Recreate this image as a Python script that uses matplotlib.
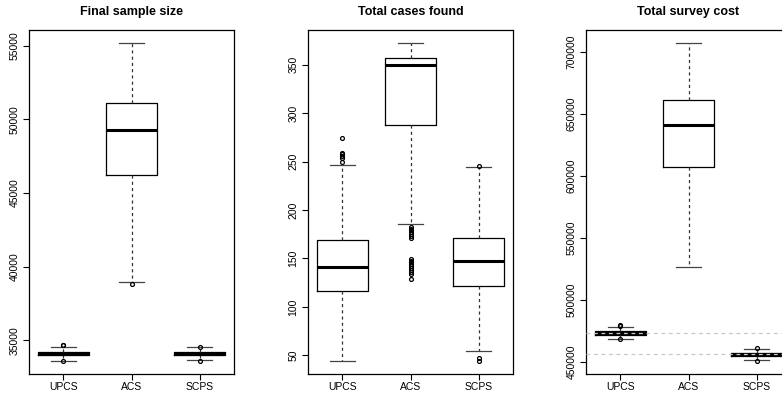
#!/usr/bin/env python3
"""
Boxplots of simulated survey outcomes (sample size, cases found, cost)
for the three designs, drawn in the style of base R boxplot().
"""
import numpy as np
import matplotlib

matplotlib.use("Agg")
import matplotlib.pyplot as plt  # noqa: E402

plt.rcParams["font.family"] = ["Liberation Sans", "DejaVu Sans"]

DESIGNS = ["UPCS", "ACS", "SCPS"]

# Final sample size
size_whislo = [33640, 39000, 33650]
size_q1 = [33990, 46200, 33990]
size_med = [34100, 49250, 34100]
size_q3 = [34230, 51100, 34230]
size_whishi = [34550, 55200, 34560]
size_fliers = [[34720, 34660, 33600], [38800], [34580, 33590]]

# Total cases found
cases_whislo = [44, 186, 55]
cases_q1 = [116, 288, 121.5]
cases_med = [141, 350, 147]
cases_q3 = [169, 356.5, 171]
cases_whishi = [246, 372.5, 244]
cases_fliers = [
    [249, 254, 256, 258, 259, 274],
    [182, 180, 179, 177, 175, 173, 171,
     149, 147, 146, 144, 142, 140, 138, 136, 134, 128.5],
    [245, 47, 44],
]

# Total survey cost
cost_whislo = [468300, 526000, 451400]
cost_q1 = [471600, 607000, 454600]
cost_med = [473100, 640600, 456000]
cost_q3 = [474600, 661500, 457200]
cost_whishi = [477700, 707300, 460500]
cost_fliers = [[478600, 479200, 468200], [], [461300, 450300]]
cost_refs = [473100, 456000]  # dashed reference lines

PANELS = [
    ("Final sample size", size_whislo, size_q1, size_med, size_q3,
     size_whishi, size_fliers, [35000, 40000, 45000, 50000, 55000]),
    ("Total cases found", cases_whislo, cases_q1, cases_med, cases_q3,
     cases_whishi, cases_fliers, [50, 100, 150, 200, 250, 300, 350]),
    ("Total survey cost", cost_whislo, cost_q1, cost_med, cost_q3,
     cost_whishi, cost_fliers,
     [450000, 500000, 550000, 600000, 650000, 700000]),
]

W, H = 782, 398
fig = plt.figure(figsize=(W / 100, H / 100), dpi=100)

lefts = [29, 308, 586]
ax_w, ax_top, ax_bot = 205, 30, 374

for left, (title, lo, q1, med, q3, hi, fl, yt) in zip(lefts, PANELS):
    ax = fig.add_axes([left / W, (H - ax_bot) / H, ax_w / W,
                       (ax_bot - ax_top) / H])
    stats = [
        dict(label=n, whislo=a, q1=b, med=c, q3=d, whishi=e, fliers=f)
        for n, a, b, c, d, e, f in zip(DESIGNS, lo, q1, med, q3, hi, fl)
    ]
    ax.bxp(
        stats,
        positions=[1, 2, 3],
        widths=0.75,
        showfliers=True,
        boxprops=dict(color="black", lw=0.9),
        medianprops=dict(color="black", lw=2.2, solid_capstyle="butt"),
        whiskerprops=dict(color="#333333", lw=0.9, ls=(0, (2.5, 2.5))),
        capprops=dict(color="#444444", lw=0.9),
        capwidths=0.37,
        flierprops=dict(marker="o", markersize=2.8, markerfacecolor="none",
                        markeredgecolor="black", markeredgewidth=0.9),
    )
    ax.set_xlim(0.5, 3.5)
    all_vals = lo + hi + [v for f in fl for v in f]
    vmin, vmax = min(all_vals), max(all_vals)
    pad = 0.04 * (vmax - vmin)
    ax.set_ylim(vmin - pad, vmax + pad)
    ax.set_yticks(yt)
    ax.set_yticklabels([str(v) for v in yt])
    ax.set_xticks([1, 2, 3])
    ax.set_xticklabels(DESIGNS)

    if title == "Total survey cost":
        for r in cost_refs:
            ax.axhline(r, color="#c8c8c8", lw=0.9, ls=(0, (3, 3)), zorder=5)

    ax.set_title(title, fontsize=9, fontweight="bold", pad=11)
    ax.tick_params(axis="both", direction="out", length=4, width=0.8,
                   labelsize=7.5, colors="black")
    ax.tick_params(axis="x", pad=2)
    ax.tick_params(axis="y", pad=3, labelrotation=90)
    for lab in ax.get_yticklabels():
        lab.set_va("center")
    for s in ax.spines.values():
        s.set_linewidth(0.9)
        s.set_color("black")

fig.savefig("out.png", dpi=100)
